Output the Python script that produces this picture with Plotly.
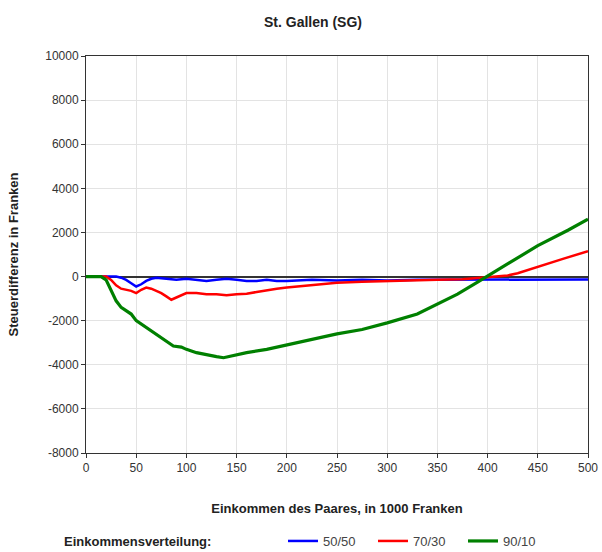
import plotly.graph_objects as go

# Einkommen des Paares (in 1000 Franken) und Steuerdifferenz (Franken) je Verteilung
x_5050 = [0, 30, 35, 40, 45, 50, 55, 60, 65, 70, 80, 90, 100, 110, 120, 130, 140, 150, 160,
          170, 180, 190, 200, 225, 250, 275, 300, 330, 350, 375, 400, 425, 450, 500]
y_5050 = [0, 0, -50, -150, -300, -450, -350, -200, -100, -50, -100, -150, -100, -150, -200,
          -150, -100, -150, -200, -200, -150, -200, -200, -150, -180, -150, -180, -150, -150,
          -120, -150, -130, -130, -130]

x_7030 = [0, 20, 25, 30, 35, 40, 45, 50, 55, 60, 65, 70, 75, 80, 85, 90, 95, 100, 110, 120,
          130, 140, 150, 160, 170, 180, 190, 200, 225, 250, 275, 300, 325, 350, 375, 400,
          420, 430, 450, 475, 500]
y_7030 = [0, 0, -150, -400, -550, -600, -650, -750, -600, -500, -550, -650, -750, -900, -1050,
          -950, -850, -750, -750, -800, -800, -850, -800, -780, -700, -620, -550, -500, -380,
          -280, -240, -200, -170, -140, -120, -20, 50, 150, 450, 800, 1150]

x_9010 = [0, 15, 20, 25, 30, 35, 40, 45, 50, 60, 70, 80, 87, 95, 100, 110, 120, 130, 137, 145,
          160, 180, 200, 225, 250, 275, 300, 330, 350, 370, 390, 400, 420, 450, 480, 500]
y_9010 = [0, 0, -150, -600, -1100, -1400, -1550, -1700, -2000, -2300, -2600, -2900, -3150,
          -3200, -3300, -3450, -3550, -3630, -3680, -3600, -3450, -3300, -3100, -2850, -2600,
          -2400, -2100, -1700, -1250, -800, -250, 20, 550, 1400, 2100, 2600]

x_ticks = list(range(0, 501, 50))
y_ticks = list(range(-8000, 10001, 2000))
y_tick_labels = [str(v) for v in y_ticks]

font_family = "Liberation Sans, Arial, sans-serif"

fig = go.Figure()
fig.add_trace(go.Scatter(x=x_5050, y=y_5050, mode="lines", name="50/50",
                         line=dict(color="#0000ff", width=2.5)))
fig.add_trace(go.Scatter(x=x_7030, y=y_7030, mode="lines", name="70/30",
                         line=dict(color="#ff0000", width=2.5)))
fig.add_trace(go.Scatter(x=x_9010, y=y_9010, mode="lines", name="90/10",
                         line=dict(color="#008000", width=3.2)))

axis_common = dict(
    showgrid=True, gridcolor="#e3e3e3", gridwidth=1,
    showline=True, linecolor="#333333", linewidth=1, mirror=True,
    ticks="outside", ticklen=4, tickcolor="#333333",
    tickfont=dict(family=font_family, size=12, color="#333333"),
    automargin=False,
)

fig.update_xaxes(range=[0, 500], tickvals=x_ticks, zeroline=False, **axis_common,
                 title=dict(text="<b>Einkommen des Paares, in 1000 Franken</b>",
                            font=dict(family=font_family, size=13, color="#222222"),
                            standoff=29))
# Nulllinie über dem Gitter, unter den Kurven
fig.update_yaxes(range=[-8000, 10000], tickvals=y_ticks, ticktext=y_tick_labels,
                 zeroline=True, zerolinecolor="#333333", zerolinewidth=1.5,
                 **axis_common,
                 title=dict(text="<b>Steuerdifferenz in Franken</b>",
                            font=dict(family=font_family, size=13, color="#222222"),
                            standoff=23))

fig.add_annotation(text="<b>Einkommensverteilung:</b>", xref="paper", yref="paper",
                   x=(62 - 86) / 502, y=-(541 - 453) / 397, xanchor="left", yanchor="middle",
                   showarrow=False, font=dict(family=font_family, size=13, color="#222222"))

fig.update_layout(
    width=602, height=552,
    margin=dict(l=86, r=14, t=56, b=99, autoexpand=False),
    paper_bgcolor="white", plot_bgcolor="white",
    title=dict(text="<b>St. Gallen (SG)</b>", x=313 / 602, xanchor="center",
               y=1 - 22 / 552, yanchor="middle",
               font=dict(family=font_family, size=14, color="#222222")),
    showlegend=True,
    legend=dict(orientation="h", xref="container", yref="container",
                x=283 / 602, y=1 - 541 / 552, xanchor="left", yanchor="middle",
                font=dict(family=font_family, size=13, color="#444444"),
                entrywidth=45, bgcolor="rgba(0,0,0,0)", itemwidth=30),
)

fig.write_html("out.html")
